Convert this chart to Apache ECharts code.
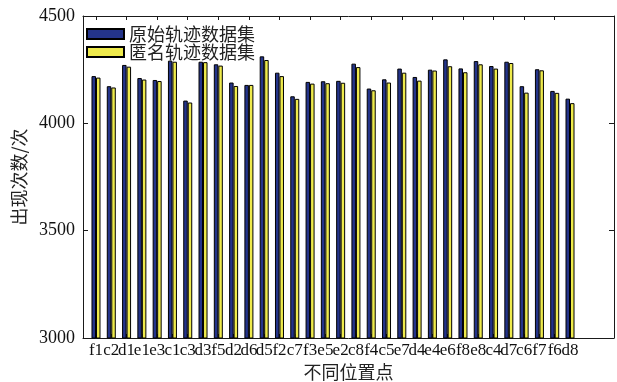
<!DOCTYPE html>
<html>
<head>
<meta charset="utf-8">
<script src="https://cdn.jsdelivr.net/npm/echarts@6/dist/echarts.min.js"></script>
<style>
  html, body { margin: 0; padding: 0; background: #fff; }
  #chart { width: 617px; height: 382px; }
</style>
</head>
<body>
<div id="chart"></div>
<script>
// Location labels along the x axis
const categories = ['f1','c2','d1','e1','e3','c1','c3','d3','f5','d2','d6','d5','f2','c7','f3','e5',
                    'e2','c8','f4','c5','e7','d4','e4','e6','f8','e8','c4','d7','c6','f7','f6','d8'];

// Occurrence counts per location
const originalCounts   = [4220,4173,4272,4211,4202,4292,4106,4287,4275,4190,4179,4312,4236,4126,4193,4196,
                          4198,4278,4162,4205,4255,4216,4250,4298,4256,4290,4267,4287,4173,4252,4151,4115];
const anonymizedCounts = [4213,4167,4264,4204,4197,4287,4097,4285,4269,4174,4179,4295,4220,4114,4185,4187,
                          4189,4262,4154,4190,4236,4199,4246,4266,4238,4275,4255,4281,4143,4247,4142,4094];

// Value axis ticks
const yTicks = [3000, 3500, 4000, 4500];

const seriesNames = ['原始轨迹数据集', '匿名轨迹数据集'];
const xTitle = '不同位置点';
const yTitle = '出现次数/次';

const axisColor = '#1a1a1a';
const serif = 'Liberation Serif';
const cjk = 'Noto Sans CJK SC';

const yMin = yTicks[0];
const yMax = yTicks[yTicks.length - 1];
const yStep = yTicks[1] - yTicks[0];

const chart = echarts.init(document.getElementById('chart'), null, { renderer: 'canvas' });

const frameLine = { show: true, onZero: false, lineStyle: { color: axisColor, width: 1 } };

chart.setOption({
  animation: false,
  backgroundColor: '#fff',
  grid: [
    // outer box
    { left: 83, right: 3, top: 16, bottom: 44, outerBoundsMode: 'none', containLabel: false },
    // bar area
    { left: 88.35, width: 489.3, top: 16, bottom: 44, outerBoundsMode: 'none', containLabel: false }
  ],
  legend: {
    orient: 'vertical',
    left: 86,
    top: 25,
    padding: 0,
    itemGap: 0,
    itemWidth: 37,
    itemHeight: 10,
    icon: 'rect',
    data: seriesNames,
    textStyle: { fontFamily: cjk, fontSize: 18, color: '#222', lineHeight: 15 }
  },
  xAxis: [
    {
      gridIndex: 0, type: 'value', min: 0, max: 1, position: 'bottom',
      axisLine: frameLine, axisTick: { show: false }, axisLabel: { show: false }, splitLine: { show: false },
      name: xTitle, nameLocation: 'middle', nameGap: 25,
      nameTextStyle: { fontFamily: cjk, fontSize: 18, color: '#222' }
    },
    {
      gridIndex: 0, type: 'value', min: 0, max: 1, position: 'top',
      axisLine: frameLine, axisTick: { show: false }, axisLabel: { show: false }, splitLine: { show: false }
    },
    {
      gridIndex: 1, type: 'category', data: categories, position: 'bottom',
      axisLine: { show: false },
      axisTick: { show: true, inside: true, alignWithLabel: true, length: 4, lineStyle: { color: axisColor } },
      axisLabel: { interval: 0, fontFamily: serif, fontSize: 17, color: '#111', margin: 4 }
    },
    {
      gridIndex: 1, type: 'category', data: categories, position: 'top',
      axisLine: { show: false },
      axisTick: { show: true, inside: true, alignWithLabel: true, length: 4, lineStyle: { color: axisColor } },
      axisLabel: { show: false }
    }
  ],
  yAxis: [
    {
      gridIndex: 0, type: 'value', min: yMin, max: yMax, interval: yStep, position: 'left',
      axisLine: frameLine,
      axisTick: { show: true, inside: true, length: 5, lineStyle: { color: axisColor } },
      axisLabel: { fontFamily: serif, fontSize: 18, color: '#111', margin: 8, formatter: v => String(v) },
      splitLine: { show: false },
      name: yTitle, nameLocation: 'middle', nameGap: 48,
      nameTextStyle: { fontFamily: cjk, fontSize: 18, color: '#222' }
    },
    {
      gridIndex: 0, type: 'value', min: yMin, max: yMax, interval: yStep, position: 'right',
      axisLine: frameLine,
      axisTick: { show: true, inside: true, length: 5, lineStyle: { color: axisColor } },
      axisLabel: { show: false },
      splitLine: { show: false }
    },
    {
      gridIndex: 1, type: 'value', min: yMin, max: yMax, show: false
    }
  ],
  series: [
    {
      name: seriesNames[0], type: 'bar', xAxisIndex: 2, yAxisIndex: 2,
      data: originalCounts, barWidth: 4.5, barGap: '0%',
      itemStyle: { color: '#24348a', borderColor: '#000', borderWidth: 1 }
    },
    {
      name: seriesNames[1], type: 'bar', xAxisIndex: 2, yAxisIndex: 2,
      data: anonymizedCounts, barWidth: 4.5, barGap: '0%',
      itemStyle: { color: '#eeea4c', borderColor: '#000', borderWidth: 1 }
    }
  ]
});
</script>
</body>
</html>
